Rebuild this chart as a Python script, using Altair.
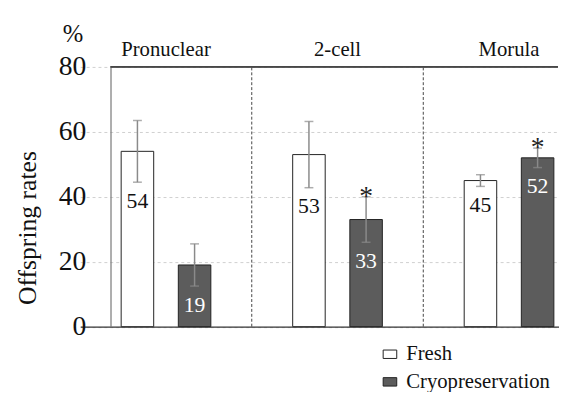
import altair as alt
import pandas as pd

stages = ["Pronuclear", "2-cell", "Morula"]
groups = ["Fresh", "Cryopreservation"]
fresh_vals = [54, 53, 45]
cryo_vals = [19, 33, 52]
fresh_err = [9.5, 10.2, 1.8]
cryo_err = [6.5, 7.0, 3.0]
cryo_sig = [False, True, True]
y_ticks = [0, 20, 40, 60, 80]

rows = []
for i, s in enumerate(stages):
    rows.append({"stage": s, "group": "Fresh", "value": fresh_vals[i], "err": fresh_err[i], "sig": False})
    rows.append({"stage": s, "group": "Cryopreservation", "value": cryo_vals[i], "err": cryo_err[i], "sig": cryo_sig[i]})
df = pd.DataFrame(rows)
df["lo"] = df["value"] - df["err"]
df["hi"] = df["value"] + df["err"]
df["label"] = df["value"].astype(str)

FONT = "Liberation Serif"
W, H = 454, 263.5

xscale = alt.Scale(domain=stages, range=[-30.7, 491.3], paddingInner=0, paddingOuter=0)
xoff = alt.XOffset("group:N", sort=groups, scale=alt.Scale(domain=groups, paddingInner=0.431, paddingOuter=0.716))
yscale = alt.Scale(domain=[0, 80], nice=False)

base = alt.Chart(df).encode(
    x=alt.X("stage:N", sort=stages, scale=xscale,
            axis=alt.Axis(title=None, labels=False, ticks=False, domain=True, domainColor="#333333", domainWidth=1.2, grid=False)),
    xOffset=xoff,
)

bars = base.mark_bar(stroke="#222222", strokeWidth=1).encode(
    y=alt.Y("value:Q", scale=yscale,
            axis=alt.Axis(values=y_ticks, title="Offspring rates", titleFont=FONT, titleFontSize=26,
                          titleFontWeight="normal", titleColor="#111111", titleX=-84, titleY=163,
                          titleAlign="center", titleBaseline="middle",
                          labelFont=FONT, labelFontSize=28, labelColor="#111111", labelPadding=25,
                          ticks=False, domainColor="#777777", domainWidth=1.2,
                          grid=True, gridColor="#cfcfcf", gridDash=[3, 3], gridWidth=1)),
    fill=alt.Fill("group:N", sort=groups, scale=alt.Scale(domain=groups, range=["#ffffff", "#5c5c5c"]),
                  legend=alt.Legend(title=None, orient="none", legendX=273, legendY=281, direction="vertical",
                                    labelFont=FONT, labelFontSize=21, labelColor="#111111",
                                    symbolType="M-1,-0.62H1V0.62H-1Z", symbolSize=190,
                                    symbolStrokeColor="#222222", symbolStrokeWidth=1,
                                    rowPadding=6, labelOffset=6)),
)

whisk = base.mark_rule(color="#8a8a8a", strokeWidth=1.5).encode(
    y=alt.Y("lo:Q", scale=yscale), y2="hi:Q")
cap_hi = base.mark_tick(color="#8a8a8a", thickness=1.5, size=9).encode(y=alt.Y("hi:Q", scale=yscale))
cap_lo = base.mark_tick(color="#8a8a8a", thickness=1.5, size=9).encode(y=alt.Y("lo:Q", scale=yscale))

labels = base.mark_text(font=FONT, fontSize=22, baseline="top", dy=9).encode(
    y=alt.Y("lo:Q", scale=yscale), text="label:N",
    color=alt.Color("group:N", sort=groups, scale=alt.Scale(domain=groups, range=["#111111", "#ffffff"]), legend=None))

stars = base.transform_filter(alt.datum.sig).mark_text(font=FONT, fontSize=28, baseline="alphabetic", dy=8, color="#222222").encode(
    y=alt.Y("hi:Q", scale=yscale), text=alt.value("*"))

stage_df = pd.DataFrame({"stage": stages})
headers = alt.Chart(stage_df).mark_text(font=FONT, fontSize=21, color="#111111", baseline="middle", dy=-17).encode(
    x=alt.X("stage:N", sort=stages, scale=xscale), y=alt.datum(80), text="stage:N")

div_df = pd.DataFrame({"stage": stages[:2]})
dividers = alt.Chart(div_df).mark_rule(color="#444444", strokeDash=[3, 2], strokeWidth=1).encode(
    x=alt.X("stage:N", sort=stages, scale=xscale, bandPosition=1), y=alt.datum(0), y2=alt.datum(80))

top_frame = alt.Chart(stage_df).mark_rule(color="#444444", strokeWidth=1.2).encode(
    x=alt.value(0), x2=alt.value("width"), y=alt.datum(80))

pct = alt.Chart(pd.DataFrame({"t": ["%"]})).mark_text(
    font=FONT, fontSize=25, fontWeight="normal", color="#111111", baseline="middle", dy=-33).encode(
    x=alt.value(-38), y=alt.datum(80), text="t:N")

chart = alt.layer(dividers, bars, whisk, cap_hi, cap_lo, labels, stars, headers, top_frame, pct).properties(
    width=W, height=H,
    autosize=alt.AutoSizeParams(type="none"),
    padding={"left": 104, "top": 57, "right": 1, "bottom": 63},
    background="white",
).configure_view(stroke=None)

chart.save("out.html", embed_options={"renderer": "svg", "actions": False})
